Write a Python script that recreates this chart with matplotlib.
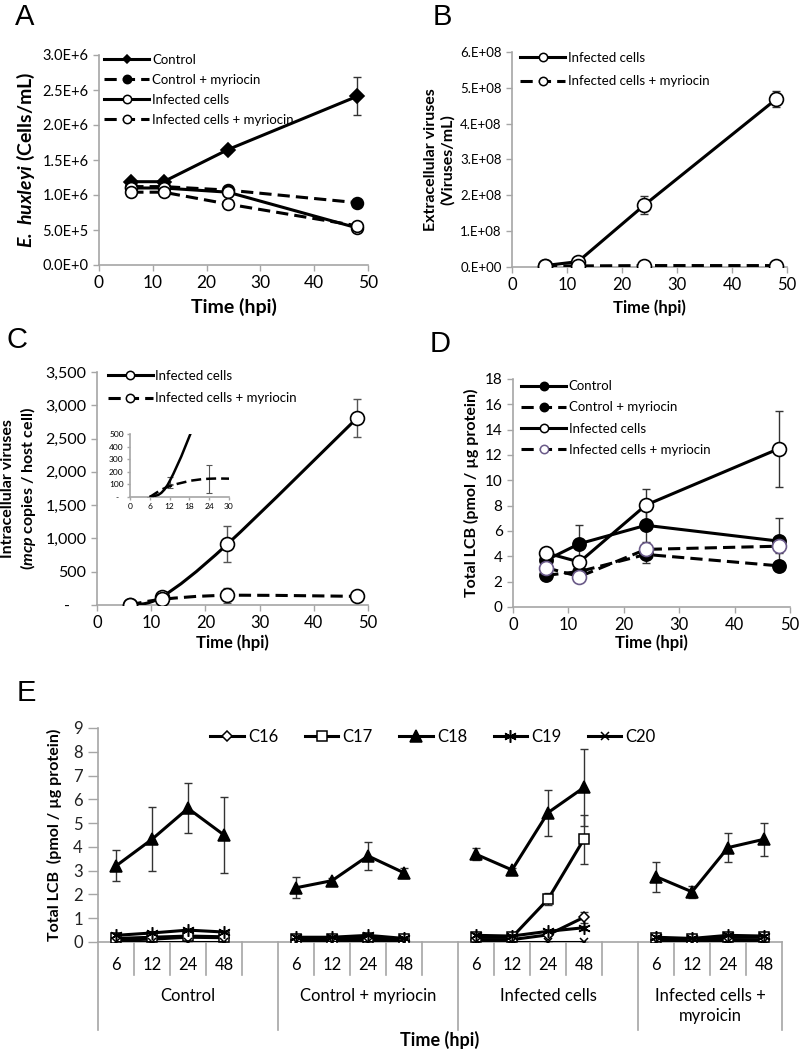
import numpy as np
import matplotlib
matplotlib.use('Agg')
import matplotlib.pyplot as plt
from matplotlib.lines import Line2D
from matplotlib.path import Path
from matplotlib.patches import PathPatch

plt.rcParams['font.family'] = ['Lato', 'DejaVu Sans']
plt.rcParams['mathtext.fontset'] = 'custom'
plt.rcParams['mathtext.rm'] = 'Lato'
plt.rcParams['mathtext.it'] = 'Lato:italic'
plt.rcParams['mathtext.bf'] = 'Lato:bold'
plt.rcParams['mathtext.bfit'] = 'Lato:italic:bold'

# ---------------- datos ----------------
hpi = [6, 12, 24, 48]

# A: celulas de E. huxleyi
cel_control = [1.19e6, 1.19e6, 1.65e6, 2.41e6]
cel_control_err = [0.02e6, 0.02e6, 0.03e6, 0.27e6]
cel_control_myr = [1.12e6, 1.12e6, 1.07e6, 0.89e6]
cel_control_myr_err = [0.01e6, 0.01e6, 0.02e6, 0.02e6]
cel_inf = [1.10e6, 1.10e6, 1.04e6, 0.53e6]
cel_inf_err = [0.01e6, 0.01e6, 0.02e6, 0.02e6]
cel_inf_myr = [1.04e6, 1.04e6, 0.87e6, 0.56e6]
cel_inf_myr_err = [0.01e6, 0.01e6, 0.02e6, 0.02e6]
a_yticks = [0, 5e5, 1e6, 1.5e6, 2e6, 2.5e6, 3e6]
a_ylabels = ['0.0E+0', '5.0E+5', '1.0E+6', '1.5E+6', '2.0E+6', '2.5E+6', '3.0E+6']

# B: virus extracelulares
vext_inf = [0.04e8, 0.15e8, 1.72e8, 4.68e8]
vext_inf_err = [0.005e8, 0.02e8, 0.25e8, 0.22e8]
vext_myr = [0.03e8, 0.03e8, 0.04e8, 0.04e8]
vext_myr_err = [0.003e8, 0.003e8, 0.005e8, 0.005e8]
b_yticks = [0, 1e8, 2e8, 3e8, 4e8, 5e8, 6e8]
b_ylabels = ['0.E+00', '1.E+08', '2.E+08', '3.E+08', '4.E+08', '5.E+08', '6.E+08']

# C: virus intracelulares
vint_inf = [0, 125, 910, 2810]
vint_inf_err = [0, 30, 270, 280]
vint_myr = [0, 85, 145, 130]
vint_myr_err = [0, 15, 112, 20]
c_yticks = [0, 500, 1000, 1500, 2000, 2500, 3000, 3500]
c_ylabels = ['-    ', '500', '1,000', '1,500', '2,000', '2,500', '3,000', '3,500']
ins_yticks = [0, 100, 200, 300, 400, 500]
ins_ylabels = ['-  ', '100', '200', '300', '400', '500']
ins_xticks = [0, 6, 12, 18, 24, 30]

# D: LCB total
lcb_control = [3.7, 5.0, 6.45, 5.2]
lcb_control_err = [0.3, 1.5, 1.3, 1.8]
lcb_control_myr = [2.5, 2.8, 4.15, 3.25]
lcb_control_myr_err = [0.3, 0.3, 0.65, 0.3]
lcb_inf = [4.27, 3.55, 8.05, 12.5]
lcb_inf_err = [0.2, 0.3, 1.25, 3.0]
lcb_inf_myr = [3.1, 2.4, 4.55, 4.8]
lcb_inf_myr_err = [0.3, 0.2, 0.4, 0.5]

# E: especies de LCB por grupo
e_grupos = ['Control', 'Control + myriocin', 'Infected cells', 'Infected cells +\nmyroicin']
e_horas = ['6', '12', '24', '48']
e_c16 = [[0.08, 0.12, 0.20, 0.18], [0.08, 0.08, 0.10, 0.08], [0.10, 0.10, 0.30, 1.04], [0.08, 0.08, 0.10, 0.10]]
e_c16_err = [[0.03, 0.03, 0.05, 0.05], [0.02, 0.02, 0.03, 0.02], [0.03, 0.03, 0.05, 0.22], [0.02, 0.02, 0.03, 0.03]]
e_c17 = [[0.15, 0.20, 0.25, 0.22], [0.12, 0.12, 0.18, 0.12], [0.20, 0.20, 1.80, 4.33], [0.15, 0.12, 0.20, 0.22]]
e_c17_err = [[0.04, 0.04, 0.05, 0.05], [0.03, 0.03, 0.04, 0.03], [0.04, 0.04, 0.25, 1.03], [0.03, 0.03, 0.04, 0.04]]
e_c18 = [[3.20, 4.32, 5.62, 4.50], [2.28, 2.58, 3.62, 2.91], [3.69, 3.03, 5.44, 6.50], [2.75, 2.11, 3.97, 4.32]]
e_c18_err = [[0.65, 1.35, 1.05, 1.60], [0.45, 0.10, 0.60, 0.20], [0.25, 0.08, 0.97, 1.63], [0.63, 0.25, 0.60, 0.70]]
e_c19 = [[0.28, 0.38, 0.50, 0.42], [0.20, 0.20, 0.28, 0.15], [0.28, 0.25, 0.45, 0.60], [0.20, 0.15, 0.28, 0.25]]
e_c19_err = [[0.04, 0.04, 0.06, 0.06], [0.03, 0.03, 0.04, 0.03], [0.04, 0.04, 0.05, 0.08], [0.03, 0.03, 0.04, 0.04]]
e_c20 = [[0, 0, 0, 0], [0, 0, 0, 0], [0, 0, 0, 0], [0, 0, 0, 0]]
e_c20_err = [[0, 0, 0, 0], [0, 0, 0, 0], [0, 0, 0, 0], [0, 0, 0, 0]]

GRIS = '#a6a6a6'
ERR = '#333333'
LW = 2.2
DASH = (0, (4, 2))
W, H = 800, 1050
LEG_FS = 9.5


def rect_px(x0, y0, x1, y1):
    """Convierte un rectangulo en pixeles (origen arriba) a fraccion de figura."""
    return [x0 / W, 1 - y1 / H, (x1 - x0) / W, (y1 - y0) / H]


def estilo_ejes(ax, xs=12, ys=10.5):
    for s in ['top', 'right']:
        ax.spines[s].set_visible(False)
    for s in ['left', 'bottom']:
        ax.spines[s].set_color(GRIS)
        ax.spines[s].set_linewidth(1.2)
    ax.tick_params(direction='out', length=4, width=1, color=GRIS)
    ax.tick_params(axis='x', labelsize=xs)
    ax.tick_params(axis='y', labelsize=ys)


def curva_suave(ax, x, y, **kw):
    """Linea suavizada estilo Excel (Bezier)."""
    pts = np.column_stack([x, y]).astype(float)
    n = len(pts)
    verts = [pts[0]]
    codes = [Path.MOVETO]
    for i in range(n - 1):
        p0 = pts[max(i - 1, 0)]
        p1 = pts[i]
        p2 = pts[i + 1]
        p3 = pts[min(i + 2, n - 1)]
        verts += [p1 + (p2 - p0) / 6, p2 - (p3 - p1) / 6, p2]
        codes += [Path.CURVE4] * 3
    ax.add_patch(PathPatch(Path(verts, codes), fill=False, capstyle='butt', **kw))


def serie(ax, x, y, err, ls, marker, mfc, ms, mec='k'):
    ax.errorbar(x, y, yerr=err, fmt='none', ecolor=ERR, elinewidth=1, capsize=3, capthick=1, zorder=2)
    ax.plot(x, y, color='k', lw=LW, linestyle=ls, marker=marker, mfc=mfc, mec=mec,
            ms=ms, mew=1.2, zorder=3, dash_capstyle='butt')


def leyenda(ax, handles, labels, anchor, spacing=0.6, fs=LEG_FS):
    ax.legend(handles, labels, loc='upper left', bbox_to_anchor=anchor, frameon=False,
              fontsize=fs, handlelength=3.4, handletextpad=0.2, labelspacing=spacing,
              borderaxespad=0, borderpad=0)


def h(ls, marker, mfc, ms=6, mec='k'):
    return Line2D([], [], color='k', lw=LW, linestyle=ls, marker=marker, mfc=mfc,
                  mec=mec, ms=ms, mew=1.1, dash_capstyle='butt')


fig = plt.figure(figsize=(8, 10.5), dpi=100)

# ---------------- A ----------------
axA = fig.add_axes(rect_px(99, 55, 368, 265))
serie(axA, hpi, cel_control, cel_control_err, '-', 'D', 'k', 7)
serie(axA, hpi, cel_control_myr, cel_control_myr_err, DASH, 'o', 'k', 8.5)
serie(axA, hpi, cel_inf, cel_inf_err, '-', 'o', 'w', 8.5)
serie(axA, hpi, cel_inf_myr, cel_inf_myr_err, DASH, 'o', 'w', 8.5)
axA.set_xlim(0, 50)
axA.set_ylim(0, 3e6)
axA.set_xticks([0, 10, 20, 30, 40, 50])
axA.set_yticks(a_yticks)
axA.set_yticklabels(a_ylabels)
estilo_ejes(axA, xs=12.5, ys=10.5)
axA.set_xlabel('Time (hpi)', fontsize=14, fontweight='bold', labelpad=5)
axA.set_ylabel(r'$\mathbfit{E.\ huxleyi}$ (Cells/mL)', fontsize=14, fontweight='bold', labelpad=4)
leyenda(axA, [h('-', 'D', 'k', 4.5), h(DASH, 'o', 'k', 6), h('-', 'o', 'w', 6), h(DASH, 'o', 'w', 6)],
        ['Control', 'Control + myriocin', 'Infected cells', 'Infected cells + myriocin'],
        (0.02, 1.005), spacing=0.6)

# ---------------- B ----------------
axB = fig.add_axes(rect_px(512, 52, 787, 267))
serie(axB, hpi, vext_inf, vext_inf_err, '-', 'o', 'w', 10)
serie(axB, hpi, vext_myr, vext_myr_err, DASH, 'o', 'w', 10)
axB.set_xlim(0, 50)
axB.set_ylim(0, 6e8)
axB.set_xticks([0, 10, 20, 30, 40, 50])
axB.set_yticks(b_yticks)
axB.set_yticklabels(b_ylabels)
estilo_ejes(axB, xs=12, ys=9.5)
axB.set_xlabel('Time (hpi)', fontsize=12, fontweight='bold')
axB.set_ylabel('Extracellular viruses\n(Viruses/mL)', fontsize=11.5, fontweight='bold')
leyenda(axB, [h('-', 'o', 'w', 6), h(DASH, 'o', 'w', 6)],
        ['Infected cells', 'Infected cells + myriocin'], (0.03, 1.0), spacing=0.85)

# ---------------- C ----------------
axC = fig.add_axes(rect_px(97, 372, 368, 605))
axC.errorbar(hpi, vint_inf, yerr=vint_inf_err, fmt='none', ecolor='#555555', elinewidth=1,
             capsize=3, capthick=1, zorder=2)
axC.errorbar(hpi, vint_myr, yerr=vint_myr_err, fmt='none', ecolor='#555555', elinewidth=1,
             capsize=3, capthick=1, zorder=2)
curva_suave(axC, hpi, vint_inf, color='k', lw=LW, zorder=3)
curva_suave(axC, hpi, vint_myr, color='k', lw=LW, linestyle=DASH, zorder=3)
axC.plot(hpi, vint_inf, 'o', mfc='w', mec='k', ms=10, mew=1.2, zorder=4)
axC.plot(hpi, vint_myr, 'o', mfc='w', mec='k', ms=10, mew=1.2, zorder=4)
axC.set_xlim(0, 50)
axC.set_ylim(0, 3500)
axC.set_xticks([0, 10, 20, 30, 40, 50])
axC.set_yticks(c_yticks)
axC.set_yticklabels(c_ylabels)
estilo_ejes(axC, xs=12, ys=11.5)
axC.set_xlabel('Time (hpi)', fontsize=12, fontweight='bold', labelpad=2)
axC.set_ylabel('Intracellular viruses\n(' + r'$\mathbfit{mcp}$' + ' copies / host cell)',
               fontsize=11.5, fontweight='bold', labelpad=5)
leyenda(axC, [h('-', 'o', 'w', 6), h(DASH, 'o', 'w', 6)],
        ['Infected cells', 'Infected cells + myriocin'], (0.04, 1.01), spacing=0.8)

# recuadro ampliado
axI = fig.add_axes(rect_px(130, 434, 229, 497))
axI.errorbar(hpi, vint_inf, yerr=vint_inf_err, fmt='none', ecolor='#555555', elinewidth=0.8,
             capsize=2.5, capthick=0.8, zorder=2)
axI.errorbar(hpi, vint_myr, yerr=vint_myr_err, fmt='none', ecolor='#555555', elinewidth=0.8,
             capsize=2.5, capthick=0.8, zorder=2)
curva_suave(axI, hpi, vint_inf, color='k', lw=1.8, zorder=3)
curva_suave(axI, hpi, vint_myr, color='k', lw=1.8, linestyle=DASH, zorder=3)
axI.set_xlim(0, 30)
axI.set_ylim(0, 500)
axI.set_xticks(ins_xticks)
axI.set_yticks(ins_yticks)
axI.set_yticklabels(ins_ylabels)
estilo_ejes(axI, xs=6, ys=6)
axI.tick_params(length=2.5, pad=2)

# ---------------- D ----------------
axD = fig.add_axes(rect_px(513, 379, 790, 607))
serie(axD, hpi, lcb_control, lcb_control_err, '-', 'o', 'k', 9.5)
serie(axD, hpi, lcb_control_myr, lcb_control_myr_err, DASH, 'o', 'k', 9.5)
serie(axD, hpi, lcb_inf, lcb_inf_err, '-', 'o', 'w', 10)
serie(axD, hpi, lcb_inf_myr, lcb_inf_myr_err, DASH, 'o', 'w', 10, mec='#6a5a88')
axD.set_xlim(0, 50)
axD.set_ylim(0, 18)
axD.set_xticks([0, 10, 20, 30, 40, 50])
axD.set_yticks(range(0, 19, 2))
estilo_ejes(axD, xs=12, ys=11)
axD.set_xlabel('Time (hpi)', fontsize=12, fontweight='bold', labelpad=1)
axD.set_ylabel('Total LCB (pmol / µg protein)', fontsize=11.5, fontweight='bold')
leyenda(axD, [h('-', 'o', 'k', 6), h(DASH, 'o', 'k', 6), h('-', 'o', 'w', 6),
              h(DASH, 'o', 'w', 6, mec='#6a5a88')],
        ['Control', 'Control + myriocin', 'Infected cells', 'Infected cells + myriocin'],
        (0.03, 0.995), spacing=0.7)

# ---------------- E ----------------
axE = fig.add_axes(rect_px(98, 728, 782, 942))
estilos_e = [
    ('C16', e_c16, e_c16_err, dict(marker='D', mfc='w', ms=5)),
    ('C17', e_c17, e_c17_err, dict(marker='s', mfc='w', ms=7)),
    ('C18', e_c18, e_c18_err, dict(marker='^', mfc='k', ms=8)),
    ('C19', e_c19, e_c19_err, dict(marker=(6, 2, 0), mfc='k', ms=9)),
    ('C20', e_c20, e_c20_err, dict(marker='x', mfc='k', ms=6)),
]
for nombre, valores, errores, kw in estilos_e:
    for g in range(len(e_grupos)):
        xs = [g * 5 + s for s in range(len(e_horas))]
        axE.errorbar(xs, valores[g], yerr=errores[g], fmt='none', ecolor=ERR, elinewidth=1,
                     capsize=3, capthick=1, zorder=2)
        axE.plot(xs, valores[g], color='k', lw=LW, mec='k', mew=1.1, zorder=3, **kw)

axE.set_xlim(-0.5, 18.5)
axE.set_ylim(0, 9)
axE.set_yticks(range(10))
axE.set_xticks([])
estilo_ejes(axE, xs=12, ys=12)
axE.tick_params(axis='y', labelcolor='#222222', length=7, pad=4)

# eje de categorias en dos niveles
tr = axE.get_xaxis_transform()
for g, grupo in enumerate(e_grupos):
    n_slots = 5 if g < len(e_grupos) - 1 else 4
    x0 = g * 5 - 0.5
    axE.plot([x0, x0], [0, -0.411], transform=tr, color=GRIS, lw=1.2, clip_on=False)
    for s in range(1, n_slots):
        axE.plot([x0 + s, x0 + s], [0, -0.154], transform=tr, color=GRIS, lw=1.2, clip_on=False)
    for s, lab in enumerate(e_horas):
        axE.text(g * 5 + s, -0.107, lab, transform=tr, ha='center', va='center', fontsize=12)
    axE.text(x0 + n_slots / 2, -0.215, grupo, transform=tr, ha='center', va='top',
             fontsize=12, linespacing=1.3)
axE.plot([18.5, 18.5], [0, -0.411], transform=tr, color=GRIS, lw=1.2, clip_on=False)
axE.text(9, -0.458, 'Time (hpi)', transform=tr, ha='center', va='center', fontsize=13,
         fontweight='bold')
axE.set_ylabel('Total LCB  (pmol / µg protein)', fontsize=11.5, fontweight='bold', labelpad=8)

leg_h = [Line2D([], [], color='k', lw=LW, mec='k', mew=1.1, **kw) for _, _, _, kw in estilos_e]
axE.legend(leg_h, [e[0] for e in estilos_e], loc='center', bbox_to_anchor=(0.49, 0.958),
           ncol=5, frameon=False, fontsize=12, handlelength=2.0, handletextpad=0.25,
           columnspacing=1.6)

# letras de panel
for letra, x, y in [('A', 15, 17), ('B', 433, 17), ('C', 7, 340), ('D', 430, 344), ('E', 17, 693)]:
    fig.text(x / W, 1 - y / H, letra, fontsize=21, family='Liberation Sans', va='center', ha='left')

fig.savefig('out.png', dpi=100)
